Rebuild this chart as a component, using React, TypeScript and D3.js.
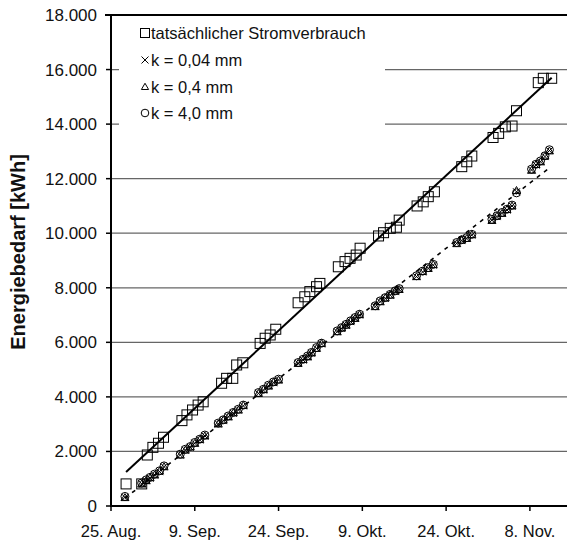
import React from "react";
import * as d3 from "d3";

// Axis ticks (days counted from 25 August)
const xTickDays = [0, 15, 30, 45, 60, 75];
const xTickLabels = ["25. Aug.", "9. Sep.", "24. Sep.", "9. Okt.", "24. Okt.", "8. Nov."];
const yTicks = [0, 2000, 4000, 6000, 8000, 10000, 12000, 14000, 16000, 18000];
const yTickLabels = ["0", "2.000", "4.000", "6.000", "8.000", "10.000", "12.000", "14.000", "16.000", "18.000"];

// Measured electricity consumption (cumulative kWh)
const actualDays = [2.7, 5.5, 6.5, 7.5, 8.5, 9.4, 12.7, 13.6, 14.6, 15.6, 16.5, 19.8, 20.7, 21.8, 22.5, 23.6,
  26.7, 27.6, 28.5, 29.5, 33.5, 34.7, 35.6, 36.8, 37.4, 40.7, 41.9, 42.8, 43.9, 44.6,
  47.9, 48.8, 50.0, 51.1, 51.6, 54.8, 55.9, 56.8, 57.9, 62.8, 63.7, 64.6,
  68.4, 69.4, 70.6, 71.8, 72.6, 76.5, 77.4, 78.9];
const actualKWh = [810, 810, 1870, 2150, 2300, 2520, 3130, 3340, 3520, 3700, 3820, 4500, 4680, 4680, 5170, 5250,
  5960, 6150, 6270, 6480, 7450, 7670, 7860, 8040, 8160, 8770, 8960, 9080, 9200, 9450,
  9900, 10020, 10180, 10220, 10480, 11000, 11150, 11340, 11520, 12440, 12620, 12830,
  13510, 13660, 13900, 13930, 14490, 15520, 15680, 15680];

// Simulated demand for three pipe roughness values
const modelDays = [2.5,
  5.5, 6.3, 7.0, 7.8, 8.7, 9.5,
  12.4, 13.3, 14.2, 15.0, 15.9, 16.8,
  19.2, 20.1, 21.0, 21.9, 22.8, 23.7,
  26.4, 27.3, 28.2, 29.1, 30.0,
  33.5, 34.4, 35.2, 35.9, 36.8, 37.7,
  40.5, 41.3, 42.1, 42.9, 43.7, 44.5,
  47.3, 48.2, 49.1, 50.0, 50.9, 51.6,
  54.7, 55.8, 56.8, 57.7,
  61.9, 62.8, 63.7, 64.6,
  68.2, 69.1, 70.0, 70.9, 71.8, 72.6,
  75.3, 76.1, 76.9, 77.7, 78.5];
const kwhK004 = [320,
  810, 930, 1020, 1140, 1260, 1440,
  1870, 2050, 2150, 2300, 2420, 2570,
  3010, 3130, 3270, 3400, 3520, 3670,
  4130, 4250, 4400, 4520, 4620,
  5230, 5350, 5470, 5600, 5780, 5940,
  6390, 6510, 6630, 6760, 6880, 7000,
  7310, 7490, 7610, 7730, 7860, 7940,
  8410, 8580, 8710, 8830,
  9630, 9730, 9810, 9930,
  10480, 10610, 10730, 10850, 11000, 11520,
  12320, 12500, 12620, 12810, 13030];
const kwhK04 = [300,
  800, 920, 1030, 1130, 1270, 1430,
  1860, 2040, 2160, 2290, 2430, 2560,
  3000, 3140, 3260, 3410, 3510, 3680,
  4120, 4260, 4390, 4530, 4610,
  5220, 5360, 5460, 5610, 5770, 5950,
  6380, 6520, 6620, 6770, 6870, 7010,
  7300, 7480, 7620, 7720, 7870, 7930,
  8400, 8590, 8700, 8840,
  9610, 9740, 9800, 9940,
  10460, 10620, 10720, 10860, 10990, 11560,
  12300, 12510, 12610, 12820, 13010];
const kwhK40 = [350,
  840, 960, 1050, 1170, 1290, 1470,
  1900, 2080, 2180, 2330, 2450, 2600,
  3040, 3160, 3300, 3430, 3550, 3700,
  4160, 4280, 4430, 4550, 4650,
  5260, 5380, 5500, 5630, 5810, 5970,
  6420, 6540, 6660, 6790, 6910, 7030,
  7340, 7520, 7640, 7760, 7890, 7970,
  8440, 8610, 8740, 8860,
  9660, 9760, 9840, 9960,
  10510, 10640, 10760, 10880, 11030, 11480,
  12350, 12530, 12650, 12840, 13060];

const legendLabels = ["tatsächlicher Stromverbrauch", "k = 0,04 mm", "k = 0,4 mm", "k = 4,0 mm"];
const yTitle = "Energiebedarf [kWh]";

const W = 567;
const H = 543;
const FONT = "'Liberation Sans', Arial, Helvetica, sans-serif";

function linearFit(xs: number[], ys: number[]) {
  const mx = d3.mean(xs) as number;
  const my = d3.mean(ys) as number;
  let sxy = 0;
  let sxx = 0;
  xs.forEach((x, i) => {
    sxy += (x - mx) * (ys[i] - my);
    sxx += (x - mx) * (x - mx);
  });
  const slope = sxy / sxx;
  return { slope, intercept: my - slope * mx };
}

function Cross({ cx, cy, s }: { cx: number; cy: number; s: number }) {
  return (
    <path d={`M${cx - s},${cy - s}L${cx + s},${cy + s}M${cx - s},${cy + s}L${cx + s},${cy - s}`}
      stroke="#000" strokeWidth={1} fill="none" />
  );
}

function Triangle({ cx, cy, s }: { cx: number; cy: number; s: number }) {
  const h = s * 1.732;
  return (
    <path d={`M${cx},${cy - h * 0.6}L${cx + s},${cy + h * 0.4}L${cx - s},${cy + h * 0.4}Z`}
      stroke="#000" strokeWidth={1} fill="none" />
  );
}

export default function App() {
  const left = 111, right = 569, top = 15, bottom = 506;
  const x = d3.scaleLinear().domain([0, 82]).range([left, right]);
  const y = d3.scaleLinear().domain([0, 18000]).range([bottom, top]);

  const fitActual = linearFit(actualDays, actualKWh);
  const allModelDays = [...modelDays, ...modelDays, ...modelDays];
  const allModelKWh = [...kwhK004, ...kwhK04, ...kwhK40];
  const fitModel = linearFit(allModelDays, allModelKWh);

  const line = d3.line<[number, number]>().x((d) => x(d[0])).y((d) => y(d[1]));
  const [a0, a1] = d3.extent(actualDays) as [number, number];
  const [m0, m1] = d3.extent(modelDays) as [number, number];
  const actualLine = line([[a0, fitActual.intercept + fitActual.slope * a0], [a1, fitActual.intercept + fitActual.slope * a1]]);
  const modelLine = line([[m0, fitModel.intercept + fitModel.slope * m0], [m1, fitModel.intercept + fitModel.slope * m1]]);

  const legendY = [33, 60, 87, 113];
  const legendMarkX = 145;
  const legendTextX = 151;

  return (
    <svg width={W} height={H} style={{ position: "absolute", left: 0, top: 0, background: "#fff" }}
      fontFamily={FONT}>
      <rect x={0} y={0} width={W} height={H} fill="#fff" />

      {/* horizontal gridlines */}
      {yTicks.slice(1, -1).map((t) => (
        <line key={t} x1={left} x2={W} y1={y(t)} y2={y(t)} stroke="#666" strokeWidth={1.3} />
      ))}
      <line x1={left - 6} x2={W} y1={y(18000)} y2={y(18000)} stroke="#000" strokeWidth={2} />

      {/* legend */}
      <rect x={119} y={18} width={266} height={113} fill="#fff" />
      <rect x={legendMarkX - 4.5} y={legendY[0] - 4.5} width={9} height={9} fill="none" stroke="#000" strokeWidth={1} />
      <Cross cx={legendMarkX} cy={legendY[1]} s={3.5} />
      <Triangle cx={legendMarkX} cy={legendY[2]} s={3.6} />
      <circle cx={legendMarkX} cy={legendY[3]} r={3.8} fill="none" stroke="#000" strokeWidth={1} />
      {legendLabels.map((t, i) => (
        <text key={t} x={legendTextX} y={legendY[i] + 6} fontSize={16.5} fill="#111">{t}</text>
      ))}

      {/* simulated series */}
      {modelDays.map((d, i) => (
        <Cross key={`x${i}`} cx={x(d)} cy={y(kwhK004[i])} s={3.5} />
      ))}
      {modelDays.map((d, i) => (
        <Triangle key={`t${i}`} cx={x(d)} cy={y(kwhK04[i])} s={4} />
      ))}
      {modelDays.map((d, i) => (
        <circle key={`c${i}`} cx={x(d)} cy={y(kwhK40[i])} r={4} fill="none" stroke="#000" strokeWidth={1} />
      ))}
      <path d={modelLine ?? ""} stroke="#000" strokeWidth={1.6} strokeDasharray="4,5" fill="none" />

      {/* measured consumption */}
      {actualDays.map((d, i) => (
        <rect key={`s${i}`} x={x(d) - 5} y={y(actualKWh[i]) - 5} width={10} height={10}
          fill="none" stroke="#000" strokeWidth={1} />
      ))}
      <path d={actualLine ?? ""} stroke="#000" strokeWidth={2} fill="none" />

      {/* axes */}
      <line x1={left} x2={left} y1={top - 1} y2={bottom + 1} stroke="#000" strokeWidth={2} />
      <line x1={left - 1} x2={W} y1={bottom} y2={bottom} stroke="#000" strokeWidth={2} />
      {yTicks.map((t, i) => (
        <g key={t}>
          <line x1={left - 5} x2={left} y1={y(t)} y2={y(t)} stroke="#000" strokeWidth={1.5} />
          <text x={97} y={y(t) + 6} textAnchor="end" fontSize={17} fill="#111">{yTickLabels[i]}</text>
        </g>
      ))}
      {xTickDays.map((d, i) => (
        <g key={d}>
          <line x1={x(d)} x2={x(d)} y1={bottom} y2={bottom + 5} stroke="#000" strokeWidth={1.5} />
          <text x={x(d)} y={537} textAnchor="middle" fontSize={16.5} fill="#111">{xTickLabels[i]}</text>
        </g>
      ))}
      <text transform={`translate(25,252) rotate(-90)`} textAnchor="middle" fontSize={20}
        fontWeight="bold" fill="#111">{yTitle}</text>
    </svg>
  );
}
